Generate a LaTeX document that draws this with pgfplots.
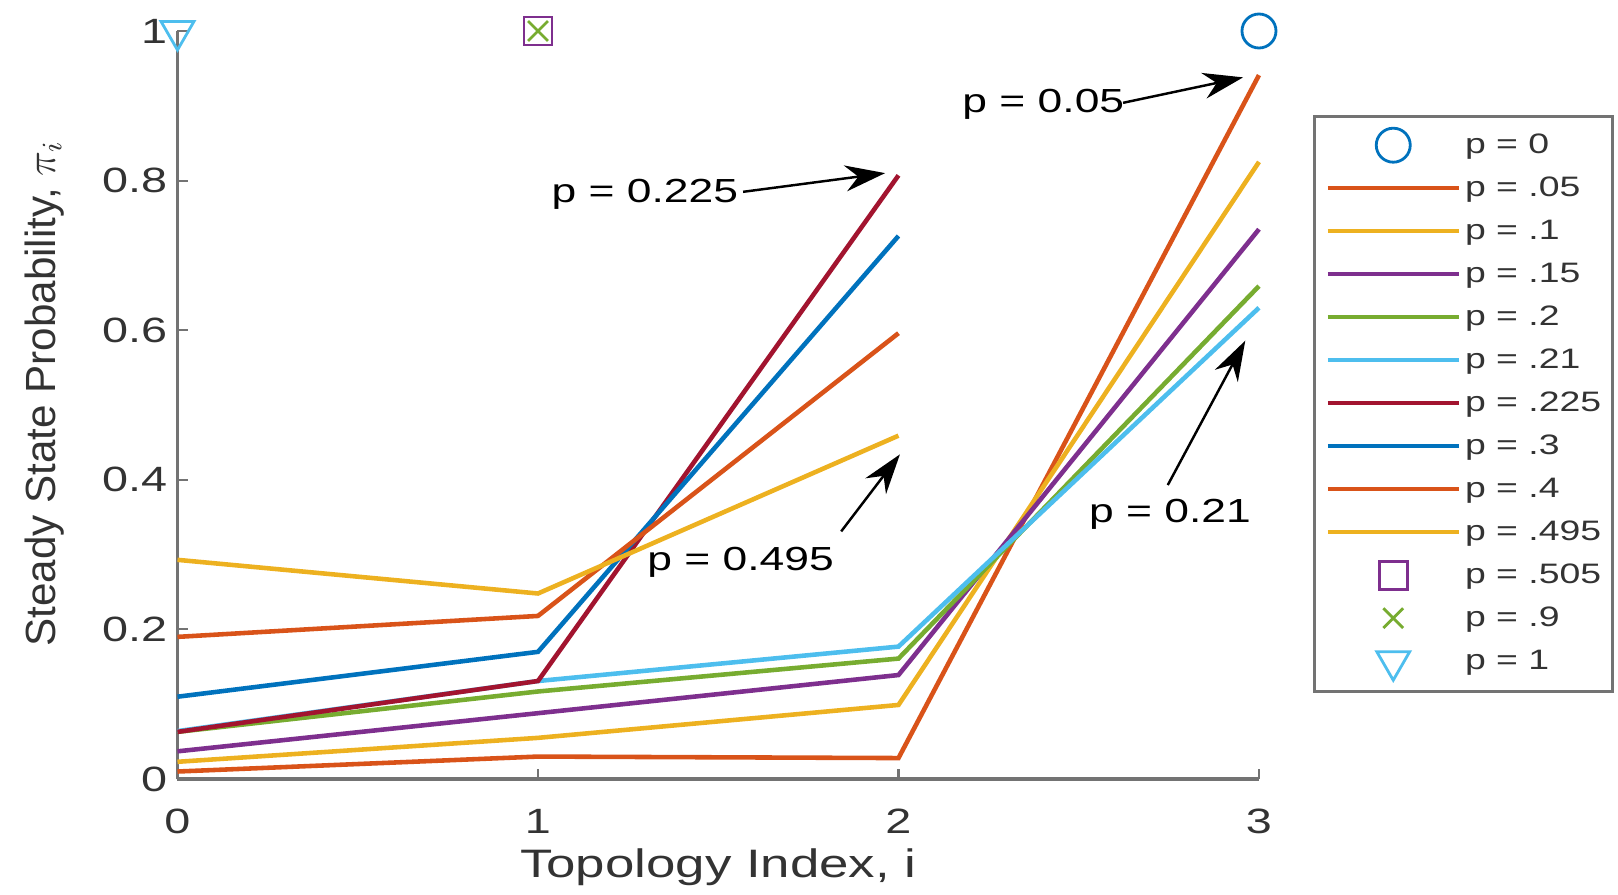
\documentclass[border=0pt]{standalone}
\usepackage{pgfplots}
\pgfplotsset{compat=1.18}
\usepackage{fontspec}
\setmainfont{Liberation Sans}[FakeStretch=1.33]
\newfontfamily\ylabfont{Liberation Sans}
\usetikzlibrary{arrows.meta}
\definecolor{mblue}{rgb}{0,0.447,0.741}
\definecolor{morange}{rgb}{0.85,0.325,0.098}
\definecolor{myellow}{rgb}{0.929,0.694,0.125}
\definecolor{mpurple}{rgb}{0.494,0.184,0.556}
\definecolor{mgreen}{rgb}{0.466,0.674,0.188}
\definecolor{mcyan}{rgb}{0.301,0.745,0.933}
\definecolor{mred}{rgb}{0.635,0.078,0.184}
\definecolor{axgray}{rgb}{0.45,0.45,0.45}
\definecolor{txtgray}{rgb}{0.2,0.2,0.2}
\begin{document}
\begin{tikzpicture}
\path[use as bounding box] (-1.775cm,-1.15cm) rectangle (14.405cm,7.79cm);
\begin{axis}[
  at={(0,0)}, anchor=south west,
  scale only axis, width=10.815cm, height=7.48cm,
  xmin=0, xmax=3, ymin=0, ymax=1,
  clip=false,
  axis x line*=bottom, axis y line*=left,
  xtick={0,1,2,3}, xticklabels={0,1,2,3},
  ytick={0,0.2,0.4,0.6,0.8,1}, yticklabels={0,0.2,0.4,0.6,0.8,1},
  tick align=inside, major tick length=0.1cm,
  axis line style={draw=axgray, line width=0.9pt},
  tick style={draw=axgray, line width=0.6pt},
  /pgf/number format/assume math mode=true,
  ticklabel style={font=\fontsize{10}{12}\selectfont, text=txtgray},
  xticklabel style={yshift=-1.8mm},
  yticklabel style={xshift=0.2mm},
  xlabel={Topology Index, i},
  ylabel={Steady State Probability, $\pi_i$},
  every axis x label/.style={at={(axis description cs:0.5,0)}, anchor=base, yshift=-9.8mm, font=\fontsize{11.3}{13}\selectfont, text=txtgray},
  every axis y label/.style={at={(axis description cs:-0.1232,0.515)}, rotate=90, anchor=center, font=\ylabfont\fontsize{12}{14}\selectfont, text=txtgray},
  legend style={at={(rel axis cs:1.05,0.888)}, anchor=north west, draw=axgray, line width=0.8pt,
    font=\fontsize{8}{9.6}\selectfont, text=txtgray, inner xsep=1.1mm, inner ysep=1.1mm, row sep=0.7mm,
    nodes={inner sep=0pt, text height=2.6mm, text depth=1mm},
    /tikz/every odd column/.append style={column sep=0.4mm}},
  legend cell align=left,
  legend image code/.code={\draw[mark repeat=2,mark phase=2,#1] plot coordinates {(0cm,0cm) (0.655cm,0cm) (1.31cm,0cm)};},
]
\addplot[only marks, mark=o, mark size=1.7mm, draw=mblue, line width=0.8pt] coordinates {(3,1)};
\addlegendentry{p = 0}
\addplot[morange, line width=1.3pt, no marks] coordinates {(0,0.010) (1,0.030) (2,0.028) (3,0.941)};
\addlegendentry{p = .05}
\addplot[myellow, line width=1.3pt, no marks] coordinates {(0,0.023) (1,0.055) (2,0.099) (3,0.825)};
\addlegendentry{p = .1}
\addplot[mpurple, line width=1.3pt, no marks] coordinates {(0,0.037) (1,0.088) (2,0.139) (3,0.735)};
\addlegendentry{p = .15}
\addplot[mgreen, line width=1.3pt, no marks] coordinates {(0,0.063) (1,0.117) (2,0.161) (3,0.659)};
\addlegendentry{p = .2}
\addplot[mcyan, line width=1.3pt, no marks] coordinates {(0,0.064) (1,0.131) (2,0.177) (3,0.630)};
\addlegendentry{p = .21}
\addplot[mred, line width=1.3pt, no marks] coordinates {(0,0.063) (1,0.131) (2,0.807)};
\addlegendentry{p = .225}
\addplot[mblue, line width=1.3pt, no marks] coordinates {(0,0.110) (1,0.170) (2,0.726)};
\addlegendentry{p = .3}
\addplot[morange, line width=1.3pt, no marks] coordinates {(0,0.190) (1,0.218) (2,0.596)};
\addlegendentry{p = .4}
\addplot[myellow, line width=1.3pt, no marks] coordinates {(0,0.293) (1,0.248) (2,0.459)};
\addlegendentry{p = .495}
\addplot[only marks, mark=square, mark size=1.4mm, draw=mpurple, line width=0.8pt] coordinates {(1,1)};
\addlegendentry{p = .505}
\addplot[only marks, mark=x, mark size=1.4mm, draw=mgreen, line width=0.8pt] coordinates {(1,1)};
\addlegendentry{p = .9}
\addplot[only marks, mark=triangle, mark options={rotate=180}, mark size=1.9mm, draw=mcyan, line width=0.8pt] coordinates {(0,1)};
\addlegendentry{p = 1}

\node[anchor=east, inner sep=0pt, font=\fontsize{9.5}{11}\selectfont] at (axis cs:1.557,0.782) {p = 0.225};
\draw[-{Stealth[length=4mm,width=2.6mm]}, line width=0.7pt] (axis cs:1.569,0.785) -- (axis cs:1.963,0.810);
\node[anchor=east, inner sep=0pt, font=\fontsize{9.5}{11}\selectfont] at (axis cs:2.628,0.902) {p = 0.05};
\draw[-{Stealth[length=4mm,width=2.6mm]}, line width=0.7pt] (axis cs:2.623,0.904) -- (axis cs:2.956,0.938);
\node[inner sep=0pt, font=\fontsize{9.5}{11}\selectfont] at (axis cs:1.562,0.290) {p = 0.495};
\draw[-{Stealth[length=4mm,width=2.6mm]}, line width=0.7pt] (axis cs:1.841,0.331) -- (axis cs:2.004,0.434);
\node[inner sep=0pt, font=\fontsize{9.5}{11}\selectfont] at (axis cs:2.753,0.354) {p = 0.21};
\draw[-{Stealth[length=4mm,width=2.6mm]}, line width=0.7pt] (axis cs:2.747,0.393) -- (axis cs:2.962,0.586);
\end{axis}
\end{tikzpicture}
\end{document}
